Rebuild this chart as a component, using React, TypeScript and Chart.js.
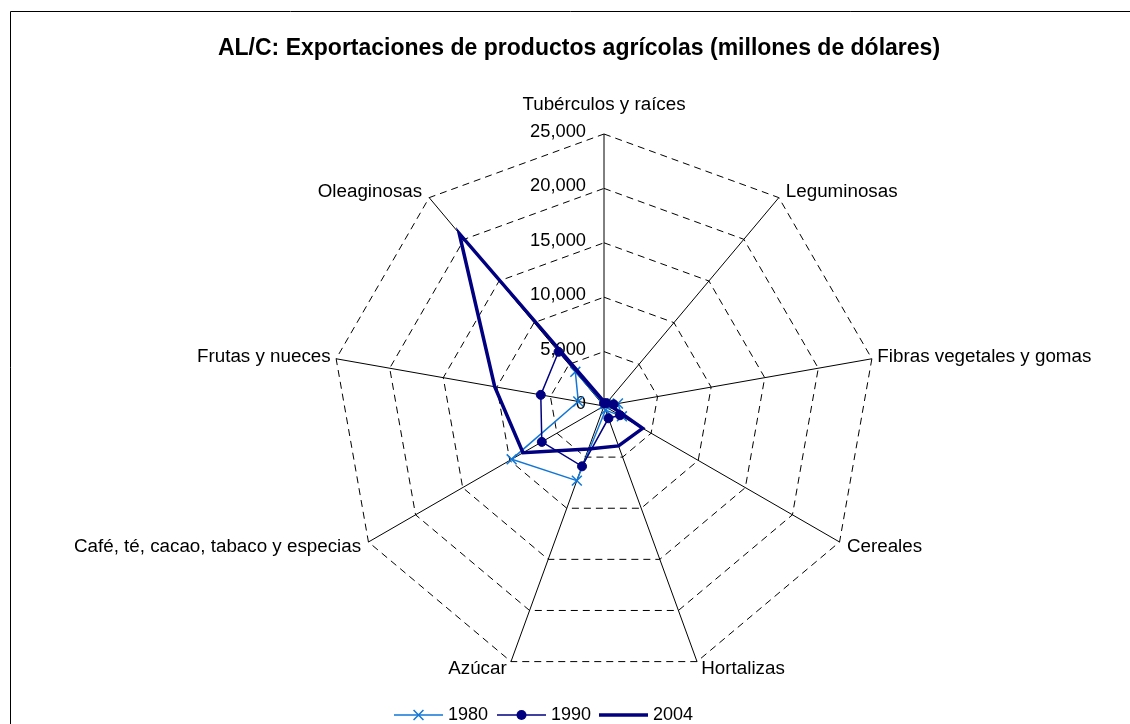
import React, { useEffect, useRef } from 'react';
import { Chart, registerables } from 'chart.js';

Chart.register(...registerables);

const titleText = 'AL/C: Exportaciones de productos agrícolas (millones de dólares)';
const categories = [
  'Tubérculos y raíces',
  'Leguminosas',
  'Fibras vegetales y gomas',
  'Cereales',
  'Hortalizas',
  'Azúcar',
  'Café, té, cacao, tabaco y especias',
  'Frutas y nueces',
  'Oleaginosas',
];
const seriesLabels = ['1980', '1990', '2004'];
const values1980 = [150, 250, 1300, 1900, 400, 7300, 9800, 2400, 4100];
const values1990 = [250, 350, 900, 1700, 1200, 5900, 6600, 5900, 6500];
const values2004 = [400, 500, 500, 4100, 3900, 4200, 8600, 10200, 20700];
const tickValues = [0, 5000, 10000, 15000, 20000, 25000];

const LIGHT = '#1176D6';
const NAVY = '#000080';
const FONT = "'Liberation Sans', Arial, sans-serif";

// vertical nudge of a point label, by its angle (degrees, clockwise from top)
function labelNudge(deg: number): number {
  const a = Math.min(deg, 360 - deg);
  if (a === 0) return 0;
  if (a <= 40) return 3;
  if (a <= 80) return -1;
  if (a <= 120) return 1;
  return -4;
}

const decorPlugin = {
  id: 'decor',
  beforeDatasetsDraw(chart: any) {
    const ctx = chart.ctx;
    const scale = chart.scales.r;
    ctx.save();
    ctx.fillStyle = '#000';
    ctx.textBaseline = 'middle';
    // tick labels
    ctx.font = `18.3px ${FONT}`;
    ctx.textAlign = 'right';
    tickValues.forEach((v) => {
      const d = scale.getDistanceFromCenterForValue(v);
      ctx.fillText(v.toLocaleString('en-US'), scale.xCenter - 18, scale.yCenter - d - 2);
    });
    // point labels
    ctx.font = `18.8px ${FONT}`;
    const n = categories.length;
    categories.forEach((lab, i) => {
      const deg = (i * 360) / n;
      const rad = (deg * Math.PI) / 180;
      const c = Math.abs(Math.cos(rad));
      let dist = scale.drawingArea + 4 + 9 * c;
      let align = 'left';
      if (deg === 0) {
        align = 'center';
        dist = scale.drawingArea + 29;
      } else if (deg > 180) {
        align = 'right';
      }
      const p = scale.getPointPosition(i, dist);
      ctx.textAlign = align;
      ctx.fillText(lab, p.x, p.y + labelNudge(deg));
    });
    ctx.restore();
  },
  afterDraw(chart: any) {
    const ctx = chart.ctx;
    ctx.save();
    // outer frame (left and top edges visible)
    ctx.strokeStyle = '#000';
    ctx.lineWidth = 1;
    ctx.beginPath();
    ctx.moveTo(10.5, 724);
    ctx.lineTo(10.5, 11.5);
    ctx.lineTo(1130, 11.5);
    ctx.stroke();
    // legend
    const y = 715;
    const starts = [394, 497, 599];
    ctx.font = `18px ${FONT}`;
    ctx.textBaseline = 'middle';
    ctx.textAlign = 'left';
    chart.data.datasets.forEach((ds: any, i: number) => {
      const x0 = starts[i];
      const x1 = x0 + 49;
      const xm = (x0 + x1) / 2;
      ctx.strokeStyle = ds.borderColor;
      ctx.lineWidth = ds.borderWidth;
      ctx.setLineDash([]);
      ctx.beginPath();
      ctx.moveTo(x0, y);
      ctx.lineTo(x1, y);
      ctx.stroke();
      if (ds.pointStyle === 'crossRot') {
        const r = ds.pointRadius * Math.SQRT1_2;
        ctx.lineWidth = ds.pointBorderWidth;
        ctx.beginPath();
        ctx.moveTo(xm - r, y - r);
        ctx.lineTo(xm + r, y + r);
        ctx.moveTo(xm - r, y + r);
        ctx.lineTo(xm + r, y - r);
        ctx.stroke();
      } else if (ds.pointStyle === 'circle' && ds.pointRadius > 0) {
        ctx.fillStyle = ds.pointBackgroundColor;
        ctx.beginPath();
        ctx.arc(xm, y, ds.pointRadius + 0.5, 0, Math.PI * 2);
        ctx.fill();
      }
      ctx.fillStyle = '#000';
      ctx.fillText(ds.label, x1 + 5, y);
    });
    ctx.restore();
  },
};

export default function App() {
  const canvasRef = useRef<HTMLCanvasElement | null>(null);

  useEffect(() => {
    const canvas = canvasRef.current;
    if (!canvas) return;
    Chart.defaults.font.family = FONT;
    Chart.defaults.color = '#000';
    const chart = new Chart(canvas, {
      type: 'radar',
      data: {
        labels: categories,
        datasets: [
          {
            label: seriesLabels[0],
            data: values1980,
            borderColor: LIGHT,
            backgroundColor: LIGHT,
            borderWidth: 1.5,
            pointStyle: 'crossRot',
            pointRadius: 7,
            pointBorderWidth: 1.5,
            pointBorderColor: LIGHT,
            pointBackgroundColor: LIGHT,
            fill: false,
            order: 3,
          },
          {
            label: seriesLabels[1],
            data: values1990,
            borderColor: NAVY,
            backgroundColor: NAVY,
            borderWidth: 1.5,
            pointStyle: 'circle',
            pointRadius: 4.5,
            pointBorderWidth: 1,
            pointBorderColor: NAVY,
            pointBackgroundColor: NAVY,
            fill: false,
            order: 2,
          },
          {
            label: seriesLabels[2],
            data: values2004,
            borderColor: NAVY,
            backgroundColor: NAVY,
            borderWidth: 3.5,
            pointStyle: 'line',
            pointRadius: 0,
            fill: false,
            order: 1,
          },
        ],
      },
      options: {
        responsive: false,
        animation: false,
        devicePixelRatio: 1,
        events: [],
        layout: { padding: { left: 28, right: 0, top: 0, bottom: 0 } },
        plugins: {
          legend: { display: false },
          tooltip: { enabled: false },
          title: {
            display: true,
            text: titleText,
            color: '#000',
            font: { size: 23, weight: 'bold', family: FONT },
            padding: { top: 35, bottom: 0 },
            align: 'center',
          },
        },
        elements: { line: { tension: 0 } },
        scales: {
          r: {
            min: 0,
            max: 25000,
            ticks: { stepSize: 5000, display: false },
            pointLabels: { display: false },
            grid: { color: '#000', lineWidth: 1 },
            border: { dash: [7, 5] },
            angleLines: { color: '#000', lineWidth: 1 },
            afterFit: (scale: any) => {
              scale.xCenter = 604;
              scale.yCenter = 406;
              scale.drawingArea = 272;
            },
          },
        },
      },
      plugins: [decorPlugin],
    });
    return () => chart.destroy();
  }, []);

  return (
    <div style={{ position: 'absolute', left: 0, top: 0, width: 1130, height: 724, background: '#fff' }}>
      <canvas ref={canvasRef} width={1130} height={724} style={{ display: 'block' }} />
    </div>
  );
}
